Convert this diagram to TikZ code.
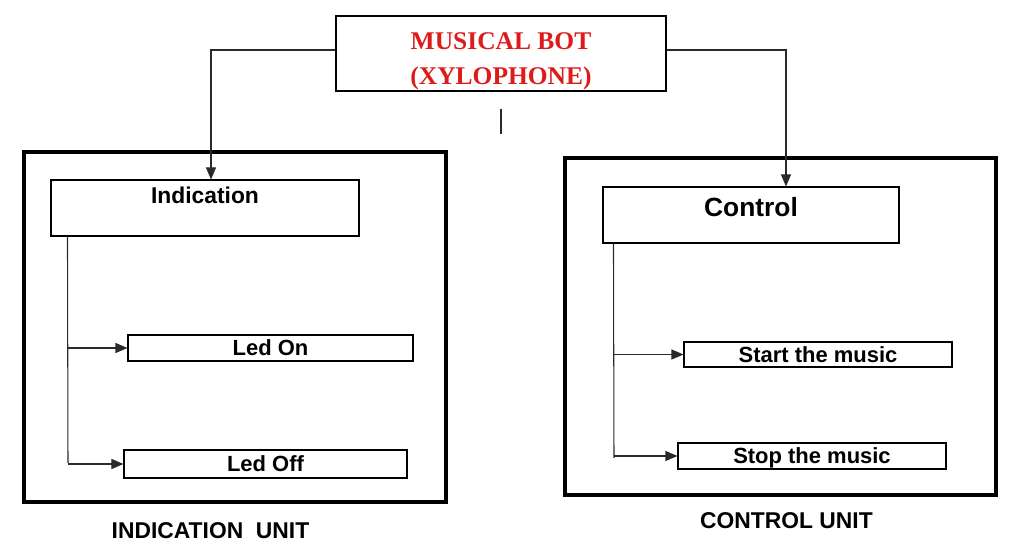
\documentclass[tikz,border=0pt]{standalone}
\usepackage{fontspec}
\setmainfont{Liberation Sans}
\newfontfamily\titlefont{Liberation Serif}
\usetikzlibrary{arrows.meta, positioning}
\definecolor{titlered}{HTML}{DD1C1A}
\definecolor{linegray}{HTML}{2A2A2A}

\begin{document}
\begin{tikzpicture}[
  title box/.style={rectangle, draw=black, line width=0.7pt, minimum width=6.6cm, minimum height=1.5cm, align=center, text height=35pt, text depth=0pt, text=titlered, font=\titlefont\bfseries\fontsize{14.5}{20}\selectfont},
  unit frame/.style={rectangle, draw=black, line width=1.9pt},
  head box/.style={rectangle, draw=black, line width=0.6pt, minimum height=1.12cm, inner sep=0pt, text height=0.3cm, font=\bfseries},
  item box/.style={rectangle, draw=black, line width=0.6pt, inner sep=0pt, text height=9pt, text depth=0pt, font=\bfseries\fontsize{12.5}{14}\selectfont},
  unit label/.style={font=\bfseries\fontsize{13}{15}\selectfont},
  link/.style={draw=linegray, line width=0.6pt},
  arr/.style={link, -{Triangle[length=0.24cm, width=0.2cm]}},
]
  \useasboundingbox (0,0) rectangle (20.48,-11.06);

  % Top
  \node[title box] (bot) at (10.02,-1.07) {MUSICAL BOT\\(XYLOPHONE)};
  \coordinate (tick) at (10.02,-2.68);

  % Indication unit
  \node[unit frame, minimum width=8.44cm, minimum height=7cm] (lframe) at (4.70,-6.54) {};
  \node[head box, minimum width=6.16cm, text depth=0.47cm, font=\bfseries\fontsize{13}{15}\selectfont] (ind) at (4.10,-4.16) {Indication};
  \node[item box, minimum width=5.70cm, minimum height=0.52cm] (on) at (5.41,-6.96) {Led On};
  \node[item box, minimum width=5.66cm, minimum height=0.56cm] (off) at (5.31,-9.28) {Led Off};
  \coordinate (lbot) at (1.36,-9.26);
  \node[unit label] (lunit) at (4.21,-10.62) {INDICATION\ \ UNIT};

  % Control unit
  \node[unit frame, minimum width=8.62cm, minimum height=6.74cm] (rframe) at (15.61,-6.53) {};
  \node[head box, minimum width=5.92cm, text depth=0.23cm, font=\bfseries\fontsize{15}{17}\selectfont] (ctl) at (15.02,-4.30) {Control};
  \node[item box, minimum width=5.36cm, minimum height=0.50cm] (start) at (16.36,-7.09) {Start the music};
  \node[item box, minimum width=5.36cm, minimum height=0.52cm] (stop) at (16.24,-9.12) {Stop the music};
  \coordinate (rbot) at (12.28,-9.16);
  \node[unit label] (runit) at (15.73,-10.42) {CONTROL UNIT};

  % Arrows from the top
  \draw[arr] ([yshift=0.07cm]bot.west) -| ([xshift=0.12cm]ind.north);
  \draw[arr] ([yshift=0.07cm]bot.east) -| ([xshift=0.70cm]ctl.north);
  \draw[link] ([yshift=-0.34cm]bot.south) -- (tick);

  % Branches
  \draw[link] ([xshift=0.34cm]ind.south west) -- (lbot);
  \draw[arr] (lbot |- on.west) -- (on.west);
  \draw[arr] (lbot |- off.west) -- (off.west);

  \draw[link] ([xshift=0.22cm]ctl.south west) -- (rbot);
  \draw[arr] (rbot |- start.west) -- (start.west);
  \draw[arr] (rbot |- stop.west) -- (stop.west);

\end{tikzpicture}
\end{document}
